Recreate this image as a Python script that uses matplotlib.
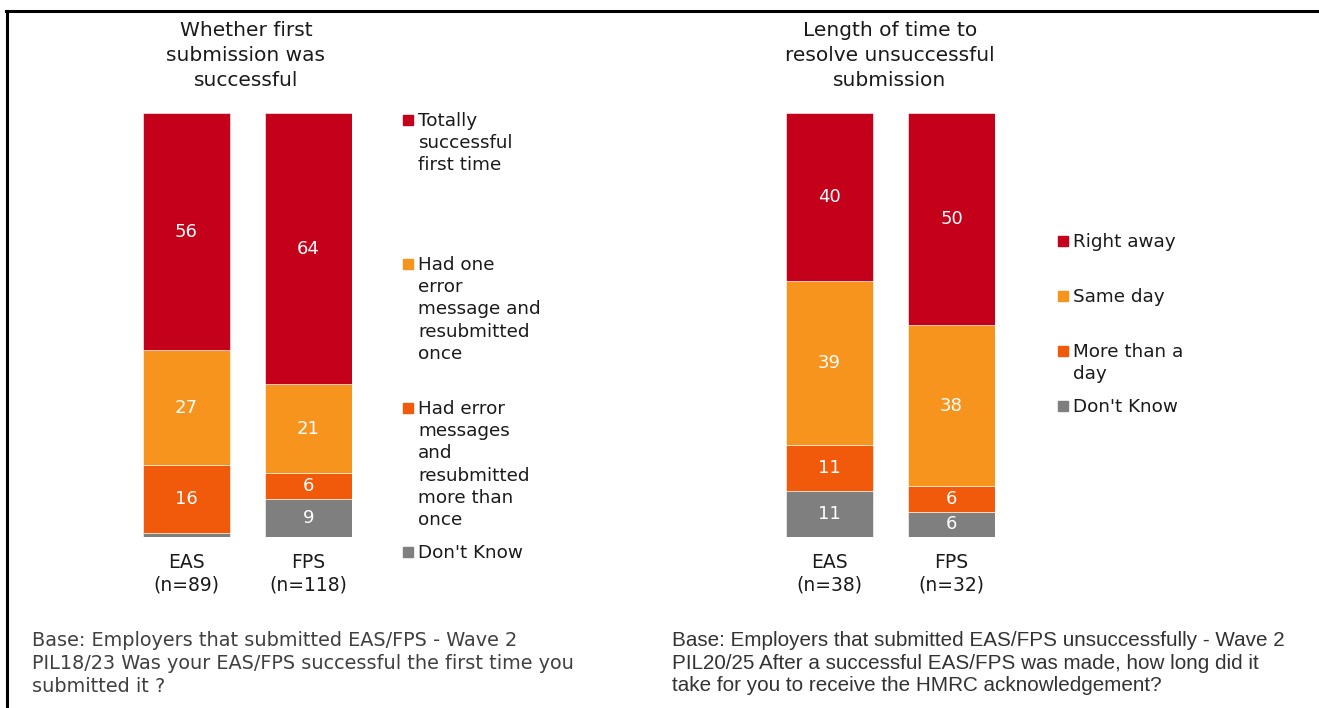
import matplotlib
matplotlib.use("Agg")
import matplotlib.pyplot as plt
from matplotlib.patches import Rectangle
from matplotlib.lines import Line2D
import numpy as np

plt.rcParams["font.family"] = ["DejaVu Sans"]

# ── data ─────────────────────────────────────────────────────────────────────
bars_left = ["EAS\n(n=89)", "FPS\n(n=118)"]
cats_left = ["Totally\nsuccessful\nfirst time",
             "Had one\nerror\nmessage and\nresubmitted\nonce",
             "Had error\nmessages\nand\nresubmitted\nmore than\nonce",
             "Don't Know"]
vals_left = np.array([[56, 64],
                      [27, 21],
                      [16, 6],
                      [1, 9]])

bars_right = ["EAS\n(n=38)", "FPS\n(n=32)"]
cats_right = ["Right away", "Same day", "More than a\nday", "Don't Know"]
vals_right = np.array([[40, 50],
                       [39, 38],
                       [11, 6],
                       [11, 6]])

colors = ["#C5001A", "#F7941E", "#F15A0A", "#7F7F7F"]

W, H = 1319, 708
fig = plt.figure(figsize=(W / 100, H / 100), dpi=100)


def px_axes(x0, y0, x1, y1):
    return fig.add_axes([x0 / W, 1 - y1 / H, (x1 - x0) / W, (y1 - y0) / H])


def stacked(ax, vals, names, bar_w=0.713):
    share = vals / vals.sum(axis=0) * 100
    x = np.arange(vals.shape[1])
    bottom = np.zeros(vals.shape[1])
    # first category sits on top, so stack from the last one upward
    for i in reversed(range(vals.shape[0])):
        ax.bar(x, share[i], bottom=bottom, width=bar_w, color=colors[i],
               edgecolor="white", linewidth=0.4)
        for j in range(len(x)):
            if vals[i, j] >= 3:
                ax.text(x[j], bottom[j] + share[i, j] / 2, str(vals[i, j]),
                        ha="center", va="center", color="white", fontsize=13)
        bottom += share[i]
    ax.set_xlim(-bar_w / 2, len(x) - 1 + bar_w / 2)
    ax.set_ylim(0, 100)
    ax.axis("off")
    for j in range(len(x)):
        ax.text(x[j], -3.7, names[j], ha="center", va="top", fontsize=13.5,
                linespacing=1.25, color="#1a1a1a")


def legend(x, y0, step, labels):
    for i, lab in enumerate(labels):
        y = y0 + i * step
        fig.patches.append(Rectangle((x / W, 1 - (y + 13) / H), 10 / W, 10 / H,
                                     transform=fig.transFigure,
                                     color=colors[i]))
        fig.text((x + 15) / W, 1 - y / H, lab, ha="left", va="top",
                 fontsize=13.2, linespacing=1.3, color="#1a1a1a")


# ── left panel ───────────────────────────────────────────────────────────────
axl = px_axes(143, 113, 352, 537)
stacked(axl, vals_left, bars_left)
fig.text(246 / W, 1 - 21 / H, "Whether first\nsubmission was\nsuccessful",
         ha="center", va="top", fontsize=14.5, linespacing=1.4, color="#1a1a1a")
legend(403, 112, 144, cats_left)
fig.text(32 / W, 1 - 631 / H,
         "Base: Employers that submitted EAS/FPS - Wave 2\n"
         "PIL18/23 Was your EAS/FPS successful the first time you\n"
         "submitted it ?",
         ha="left", va="top", fontsize=13.9, linespacing=1.25, color="#404040")

# ── right panel ──────────────────────────────────────────────────────────────
axr = px_axes(786, 113, 995, 537)
stacked(axr, vals_right, bars_right)
fig.text(890 / W, 1 - 21 / H, "Length of time to\nresolve unsuccessful\nsubmission",
         ha="center", va="top", fontsize=14.5, linespacing=1.4, color="#1a1a1a")
legend(1058, 233, 55, cats_right)
fig.text(672 / W, 1 - 631 / H,
         "Base: Employers that submitted EAS/FPS unsuccessfully - Wave 2\n"
         "PIL20/25 After a successful EAS/FPS was made, how long did it\n"
         "take for you to receive the HMRC acknowledgement?",
         ha="left", va="top", fontsize=14.9, linespacing=1.24, color="#333333",
         family="Liberation Sans")

# frame: top and left lines
fig.lines.append(Line2D([6 / W, 1], [1 - 11 / H, 1 - 11 / H],
                        transform=fig.transFigure, color="black", lw=2.2))
fig.lines.append(Line2D([7 / W, 7 / W], [0, 1 - 11 / H],
                        transform=fig.transFigure, color="black", lw=2.2))

fig.savefig("out.png", dpi=100)
